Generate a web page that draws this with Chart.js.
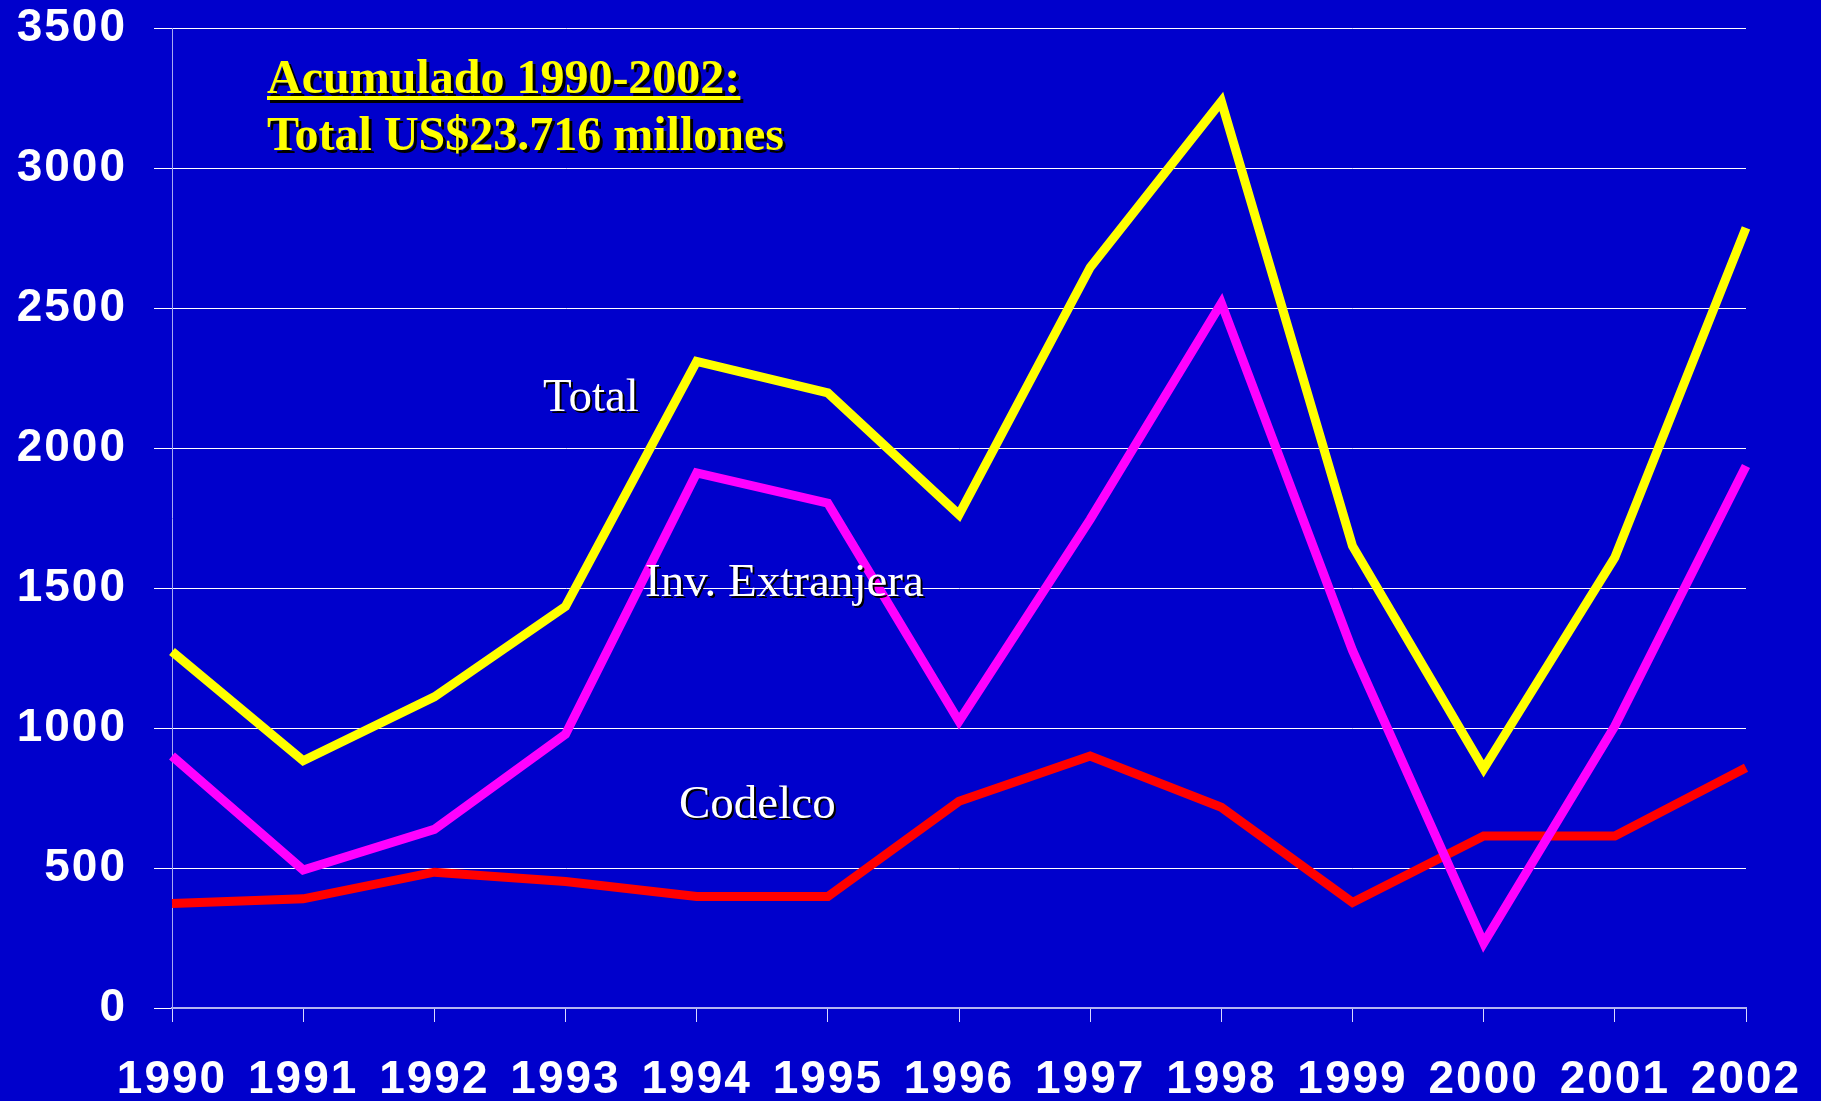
<!DOCTYPE html>
<html>
<head>
<meta charset="utf-8">
<script src="https://cdn.jsdelivr.net/npm/chart.js@4/dist/chart.umd.min.js"></script>
<style>
  html, body { margin: 0; padding: 0; background: #0000cc; }
  canvas { display: block; }
</style>
</head>
<body>
<canvas id="grafico" width="1821" height="1101"></canvas>
<script>
// Datos (millones US$)
const anios = ['1990', '1991', '1992', '1993', '1994', '1995', '1996', '1997', '1998', '1999', '2000', '2001', '2002'];
const total = [1273, 883, 1111, 1434, 2309, 2197, 1762, 2645, 3238, 1650, 854, 1609, 2786];
const invExtranjera = [900, 493, 638, 978, 1911, 1803, 1024, 1745, 2517, 1277, 232, 1007, 1936];
const codelco = [373, 390, 485, 452, 398, 398, 738, 900, 717, 377, 614, 614, 858];

// Textos sobre el gráfico
const titulo1 = 'Acumulado 1990-2002:';
const titulo2 = 'Total US$23.716 millones';
const etiquetas = ['Total', 'Inv. Extranjera', 'Codelco'];

function textoSombra(ctx, txt, x, y, color, off) {
    ctx.fillStyle = '#000000';
    ctx.fillText(txt, x + off, y + off);
    ctx.fillStyle = color;
    ctx.fillText(txt, x, y);
}

// los numeros de los ejes van algo espaciados
const espaciado = {
    id: 'espaciado',
    beforeDraw(chart) { chart.ctx.letterSpacing = '2px'; },
    afterDraw(chart) { chart.ctx.letterSpacing = '0px'; }
};

const textosPlugin = {
    id: 'textos',
    afterDatasetsDraw(chart) {
        const ctx = chart.ctx;
        ctx.save();
        ctx.letterSpacing = '0px';
        ctx.textAlign = 'left';
        ctx.textBaseline = 'alphabetic';

        // Titulo acumulado (subrayado)
        ctx.font = 'bold 48px "Liberation Serif", "Times New Roman", serif';
        textoSombra(ctx, titulo1, 267, 93, '#ffff00', 3);
        const w = ctx.measureText(titulo1).width;
        ctx.fillStyle = '#000000';
        ctx.fillRect(270, 99, w, 4);
        ctx.fillStyle = '#ffff00';
        ctx.fillRect(267, 96, w, 4);
        textoSombra(ctx, titulo2, 267, 150, '#ffff00', 3);

        // Nombres de las series
        ctx.font = '47px "Liberation Serif", "Times New Roman", serif';
        textoSombra(ctx, etiquetas[0], 543, 411, '#ffffff', 2);
        textoSombra(ctx, etiquetas[1], 645, 596, '#ffffff', 2);
        textoSombra(ctx, etiquetas[2], 679, 818, '#ffffff', 2);
        ctx.restore();
    }
};

const ctx = document.getElementById('grafico').getContext('2d');
new Chart(ctx, {
    type: 'line',
    data: {
        labels: anios,
        datasets: [
            { label: 'Total', data: total, borderColor: '#ffff00', borderWidth: 9 },
            { label: 'Inv. Extranjera', data: invExtranjera, borderColor: '#ff00ff', borderWidth: 9 },
            { label: 'Codelco', data: codelco, borderColor: '#ff0000', borderWidth: 9 }
        ]
    },
    options: {
        responsive: false,
        animation: false,
        events: [],
        layout: { autoPadding: false, padding: { left: 0, right: 75, top: 28, bottom: 0 } },
        elements: {
            point: { radius: 0 },
            line: { tension: 0, borderJoinStyle: 'miter', borderCapStyle: 'butt' }
        },
        plugins: { legend: { display: false }, tooltip: { enabled: false } },
        scales: {
            x: {
                offset: false,
                afterFit: s => { s.height = 93; s.paddingLeft = 0; s.paddingRight = 0; },
                grid: { drawOnChartArea: false, drawTicks: true, tickLength: 14, color: '#d8d8ff', lineWidth: 1 },
                border: { display: true, color: '#b4b4f0', width: 2 },
                ticks: {
                    color: '#ffffff',
                    padding: 31,
                    maxRotation: 0,
                    autoSkip: false,
                    font: { family: '"Liberation Sans", Arial, sans-serif', size: 46, weight: 'bold' }
                }
            },
            y: {
                min: 0,
                max: 3500,
                afterFit: s => { s.width = 172; s.paddingTop = 0; s.paddingBottom = 0; },
                grid: { color: '#ffffff', lineWidth: 1, drawTicks: true, tickLength: 18 },
                border: { display: true, color: '#a8a8f0', width: 1 },
                ticks: {
                    stepSize: 500,
                    color: '#ffffff',
                    padding: 27,
                    callback: v => String(v),
                    font: { family: '"Liberation Sans", Arial, sans-serif', size: 46, weight: 'bold' }
                }
            }
        }
    },
    plugins: [espaciado, textosPlugin]
});
</script>
</body>
</html>
